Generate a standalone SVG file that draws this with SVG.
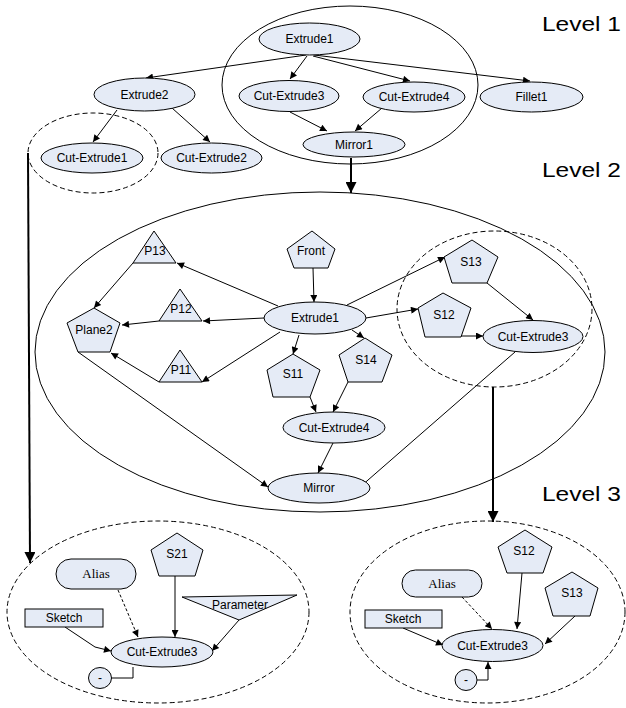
<svg xmlns="http://www.w3.org/2000/svg" width="626" height="708" viewBox="0 0 626 708">
<style>
.n{fill:#E5EBF6;stroke:#000;stroke-width:1}
.g{fill:none;stroke:#000;stroke-width:1}
.d{fill:none;stroke:#000;stroke-width:1;stroke-dasharray:5,3}
.t{font-family:"Liberation Sans",Arial,sans-serif;font-size:12px;text-anchor:middle;fill:#000}
.s{font-family:"Liberation Serif","Times New Roman",serif;font-size:13px;text-anchor:middle;fill:#000}
.L{font-family:"Liberation Sans",Arial,sans-serif;font-size:20px;fill:#000}
.c{fill:none;stroke:#000;stroke-width:1;marker-end:url(#a)}
.cd{fill:none;stroke:#000;stroke-width:1;stroke-dasharray:3,2;marker-end:url(#a)}
.b{fill:none;stroke:#000;stroke-width:2;marker-end:url(#b)}
</style>
<defs>
<marker id="a" viewBox="0 0 10 10" refX="10" refY="5" markerWidth="9" markerHeight="7" markerUnits="userSpaceOnUse" orient="auto"><path d="M0,0 L10,5 L0,10 z" fill="#000"/></marker>
<marker id="b" viewBox="0 0 10 10" refX="10" refY="5" markerWidth="14" markerHeight="11" markerUnits="userSpaceOnUse" orient="auto"><path d="M0,0 L10,5 L0,10 z" fill="#000"/></marker>
</defs>
<rect width="626" height="708" fill="#fff"/>

<g id="labels">
<text class="L" x="542" y="31" textLength="79" lengthAdjust="spacingAndGlyphs">Level 1</text>
<text class="L" x="542" y="177" textLength="79" lengthAdjust="spacingAndGlyphs">Level 2</text>
<text class="L" x="542" y="501" textLength="79" lengthAdjust="spacingAndGlyphs">Level 3</text>
</g>

<g id="groups">
<ellipse class="g" cx="350" cy="85" rx="128" ry="79"/>
<ellipse class="d" cx="93" cy="153" rx="65" ry="40"/>
<ellipse class="g" cx="320" cy="352" rx="285" ry="160"/>
<ellipse class="d" cx="494.5" cy="309" rx="97.5" ry="78"/>
<ellipse class="d" cx="158" cy="612" rx="151" ry="91"/>
<ellipse class="d" cx="487.5" cy="612" rx="137.5" ry="91"/>
</g>

<g id="connectors">
<line class="c" x1="306" y1="55" x2="146" y2="78"/>
<line class="c" x1="307" y1="56" x2="290" y2="79"/>
<line class="c" x1="313" y1="56" x2="410" y2="81"/>
<line class="c" x1="314" y1="55" x2="530" y2="81"/>
<line class="c" x1="117" y1="110" x2="93" y2="142"/>
<line class="c" x1="172" y1="108" x2="210" y2="142"/>
<line class="c" x1="290" y1="112" x2="327" y2="131"/>
<line class="c" x1="382" y1="108" x2="355" y2="131"/>
<line class="b" x1="351" y1="158" x2="351" y2="193"/>
<line class="b" x1="28" y1="153" x2="30" y2="563"/>
<line class="b" x1="493" y1="387" x2="493" y2="522"/>

<line class="c" x1="313" y1="268" x2="314" y2="302"/>
<line class="c" x1="278" y1="306" x2="177" y2="263"/>
<line class="c" x1="264" y1="318" x2="203" y2="321"/>
<line class="c" x1="280" y1="332" x2="202" y2="382"/>
<line class="c" x1="133" y1="263" x2="94" y2="308"/>
<line class="c" x1="159" y1="321" x2="122" y2="325"/>
<line class="c" x1="159" y1="382" x2="111" y2="353"/>
<line class="c" x1="78" y1="352" x2="268" y2="487"/>
<line class="c" x1="299" y1="335" x2="293" y2="354"/>
<line class="c" x1="352" y1="330" x2="364" y2="338"/>
<line class="c" x1="347" y1="305" x2="445" y2="257"/>
<line class="c" x1="366" y1="318" x2="418" y2="309"/>
<line class="c" x1="487" y1="283" x2="533" y2="320"/>
<line class="c" x1="461" y1="336" x2="483" y2="336"/>
<line class="c" x1="310" y1="397" x2="316" y2="412"/>
<line class="c" x1="348" y1="382" x2="333" y2="412"/>
<line class="c" x1="333" y1="443" x2="318" y2="473"/>
<line class="c" x1="515" y1="352" x2="360" y2="487"/>

<path class="c" d="M65,627 L95,647 L111,651"/>
<line class="cd" x1="118" y1="590" x2="138" y2="637"/>
<line class="c" x1="175" y1="576" x2="175" y2="637"/>
<line class="c" x1="239" y1="620" x2="212" y2="651"/>
<path class="g" d="M111,678 L133,678 L133,667"/>

<line class="c" x1="403" y1="628" x2="443" y2="645"/>
<line class="cd" x1="462" y1="597" x2="492" y2="629"/>
<line class="c" x1="522" y1="573" x2="517" y2="629"/>
<line class="c" x1="575" y1="616" x2="545" y2="644"/>
<path class="c" d="M477,680 L488,680 L488,662"/>
</g>

<g id="l1-extrude1"><ellipse class="n" cx="309.5" cy="39" rx="50.5" ry="16"/><text class="t" x="309.5" y="43">Extrude1</text></g>
<g id="l1-extrude2"><ellipse class="n" cx="144.5" cy="94.5" rx="50.5" ry="16.5"/><text class="t" x="144.5" y="99">Extrude2</text></g>
<g id="l1-cutextrude3"><ellipse class="n" cx="289" cy="96" rx="50" ry="15.5"/><text class="t" x="289" y="100">Cut-Extrude3</text></g>
<g id="l1-cutextrude4"><ellipse class="n" cx="414" cy="97" rx="51" ry="15"/><text class="t" x="414" y="101">Cut-Extrude4</text></g>
<g id="l1-fillet1"><ellipse class="n" cx="531.5" cy="97" rx="51.5" ry="15"/><text class="t" x="531.5" y="101">Fillet1</text></g>
<g id="l1-cutextrude1"><ellipse class="n" cx="92" cy="158" rx="51" ry="15"/><text class="t" x="92" y="162">Cut-Extrude1</text></g>
<g id="l1-cutextrude2"><ellipse class="n" cx="211.5" cy="158" rx="50.5" ry="15"/><text class="t" x="211.5" y="162">Cut-Extrude2</text></g>
<g id="l1-mirror1"><ellipse class="n" cx="354" cy="144.5" rx="51" ry="12.5"/><text class="t" x="354" y="149">Mirror1</text></g>

<g id="l2-p13"><polygon class="n" points="154,231 176,263 133,263"/><text class="t" x="155" y="255">P13</text></g>
<g id="l2-p12"><polygon class="n" points="180,289 202,321 159,321"/><text class="t" x="181" y="313">P12</text></g>
<g id="l2-p11"><polygon class="n" points="180,350 202,382 159,382"/><text class="t" x="181" y="374">P11</text></g>
<g id="l2-plane2"><polygon class="n" points="94,308 120,323 110,352 78,352 67,323"/><text class="t" x="94" y="334">Plane2</text></g>
<g id="l2-front"><polygon class="n" points="312,231 335,249 328,268 294,268 287,249"/><text class="t" x="311" y="255">Front</text></g>
<g id="l2-extrude1"><ellipse class="n" cx="315" cy="318" rx="51" ry="16"/><text class="t" x="315" y="322">Extrude1</text></g>
<g id="l2-s11"><polygon class="n" points="293,354 320,370 310,397 273,397 267,370"/><text class="t" x="293" y="378">S11</text></g>
<g id="l2-s14"><polygon class="n" points="365,338 392,355 382,382 348,382 339,355"/><text class="t" x="366" y="364">S14</text></g>
<g id="l2-s13"><polygon class="n" points="472,240 498,257 487,283 452,283 444,257"/><text class="t" x="471" y="266">S13</text></g>
<g id="l2-s12"><polygon class="n" points="443,293 471,308 461,337 425,337 418,308"/><text class="t" x="444" y="319">S12</text></g>
<g id="l2-cutextrude3"><ellipse class="n" cx="533" cy="336.5" rx="50" ry="16"/><text class="t" x="533" y="341">Cut-Extrude3</text></g>
<g id="l2-cutextrude4"><ellipse class="n" cx="334" cy="427.5" rx="51" ry="15.5"/><text class="t" x="334" y="432">Cut-Extrude4</text></g>
<g id="l2-mirror"><ellipse class="n" cx="319" cy="488" rx="51" ry="15"/><text class="t" x="319" y="492">Mirror</text></g>

<g id="l3a-alias"><rect class="n" x="56" y="559" width="80" height="30" rx="15" ry="15"/><text class="s" x="96" y="578">Alias</text></g>
<g id="l3a-s21"><polygon class="n" points="177,533 203,550 195,576 159,576 151,550"/><text class="t" x="177" y="558">S21</text></g>
<g id="l3a-sketch"><rect class="n" x="25" y="609" width="78" height="18"/><text class="t" x="64" y="622">Sketch</text></g>
<g id="l3a-parameter"><polygon class="n" points="182,597 297,595 239,620"/><text class="t" x="240" y="609">Parameter</text></g>
<g id="l3a-cutextrude3"><ellipse class="n" cx="162" cy="652" rx="51" ry="15"/><text class="t" x="162" y="656">Cut-Extrude3</text></g>
<g id="l3a-minus"><ellipse class="n" cx="100" cy="678" rx="11.5" ry="10.5"/><text class="t" x="100" y="682">-</text></g>

<g id="l3b-alias"><rect class="n" x="402" y="570" width="80" height="27" rx="13.5" ry="13.5"/><text class="s" x="442" y="588">Alias</text></g>
<g id="l3b-s12"><polygon class="n" points="525,530 552,547 543,573 507,573 498,547"/><text class="t" x="524" y="555">S12</text></g>
<g id="l3b-s13"><polygon class="n" points="572,572 598,588 590,616 553,616 545,588"/><text class="t" x="572" y="597">S13</text></g>
<g id="l3b-sketch"><rect class="n" x="365" y="610" width="77" height="18"/><text class="t" x="403" y="623">Sketch</text></g>
<g id="l3b-cutextrude3"><ellipse class="n" cx="492.5" cy="645.5" rx="50.5" ry="16"/><text class="t" x="492.5" y="650">Cut-Extrude3</text></g>
<g id="l3b-minus"><ellipse class="n" cx="466" cy="680" rx="11" ry="10.5"/><text class="t" x="466" y="684">-</text></g>
</svg>
